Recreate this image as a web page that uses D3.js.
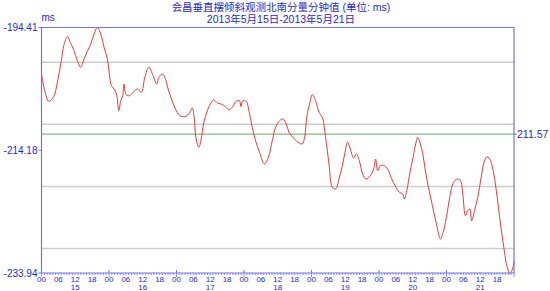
<!DOCTYPE html>
<html>
<head>
<meta charset="utf-8">
<script src="https://cdn.jsdelivr.net/npm/d3@7"></script>
<style>
  body { margin: 0; background: #fff; }
  text { font-family: "Liberation Sans", Arial, sans-serif; }
</style>
</head>
<body>
<div id="chart"></div>
<script>
// hours since 2013-05-15 00:00
const hours = [0, 1.14, 2.56, 3.74, 4.70, 5.87, 7.05, 8.01, 9.18, 10.39, 11.57, 12.74, 13.95, 15.13, 16.30, 17.51, 18.69, 19.86, 21.07, 22.25,
  23.42, 24.13, 24.84, 26.05, 26.77, 27.48, 28.19, 28.90, 29.36, 30.08, 31.25, 32.57, 34.10, 35.52, 36.73, 38.16, 39.69, 41.00, 41.72, 42.89,
  43.85, 45.03, 46.20, 47.62, 49.19, 50.97, 52.39, 53.57, 54.28, 54.74, 55.46, 55.95, 56.77, 57.59, 58.55, 59.73, 61.15, 62.72, 63.89, 65.42,
  66.63, 67.81, 69.23, 70.40, 70.90, 71.61, 72.79, 73.75, 74.93, 76.10, 77.52, 79.30, 80.87, 82.04, 83.22, 84.64, 85.85, 87.03, 87.99, 89.41,
  91.19, 92.72, 93.54, 94.39, 95.32, 96.28, 97.46, 98.66, 99.84, 101.01, 102.22, 103.40, 104.57, 105.78, 106.96, 107.92, 108.84, 109.80, 110.98, 111.94,
  113.01, 114.18, 115.39, 116.92, 118.10, 118.81, 119.52, 120.48, 121.91, 123.08, 124.29, 125.71, 127.25, 128.42, 129.03, 129.99, 130.91, 132.12, 133.05, 133.76,
  134.72, 135.68, 136.39, 137.57, 138.99, 140.42, 141.84, 142.80, 143.97, 145.15, 146.36, 147.78, 148.96, 149.78, 150.74, 151.55, 152.27, 152.98, 153.94, 155.12,
  156.33, 157.50, 158.46, 159.64, 160.81, 162.02, 163.20, 164.37, 165.58, 166.51, 167.47, 168];
const values = [-201.90, -204.59, -206.29, -205.92, -205.12, -202.70, -199.76, -197.18, -195.89, -196.95, -198.15, -199.76, -200.82, -199.48, -198.24, -197.07, -195.46, -194.41, -195.46, -197.60,
  -199.48, -201.90, -203.78, -204.47, -205.39, -207.81, -206.20, -205.39, -203.51, -205.23, -205.39, -204.84, -204.31, -204.84, -202.43, -200.82, -202.17, -203.51, -202.43, -201.90,
  -202.43, -204.31, -205.92, -207.53, -208.61, -208.77, -208.34, -207.37, -208.87, -211.56, -213.28, -213.70, -212.36, -209.95, -208.34, -207.00, -206.08, -206.61, -206.73, -207.16,
  -207.69, -207.26, -206.29, -206.20, -207.16, -206.20, -206.29, -207.81, -210.48, -212.64, -214.51, -216.39, -215.05, -212.64, -210.48, -209.42, -209.14, -209.95, -211.28, -212.09,
  -212.89, -213.17, -212.09, -208.61, -206.73, -205.23, -206.20, -208.06, -208.87, -212.09, -216.39, -220.14, -220.42, -218.80, -216.66, -214.51, -212.89, -213.97, -215.42, -214.78,
  -215.86, -218.00, -218.80, -218.27, -217.19, -215.58, -217.47, -216.66, -216.66, -217.19, -218.53, -219.88, -220.95, -221.22, -222.02, -220.42, -218.00, -215.31, -213.17, -212.09,
  -213.17, -215.05, -217.19, -220.14, -223.10, -226.05, -228.47, -227.39, -224.97, -221.75, -219.50, -218.80, -219.08, -221.22, -224.71, -223.91, -223.64, -225.52, -223.91, -221.75,
  -218.53, -215.86, -215.22, -215.86, -218.00, -221.75, -226.05, -229.80, -233.02, -233.94, -233.30, -231.96];

const yTicks = [-194.41, -214.18, -233.94];
const gridValues = [-200, -210, -220, -230];
const meanValue = -211.57;
const days = ["15", "16", "17", "18", "19", "20", "21"];
const hourLabels = ["00", "06", "12", "18"];
const titleLines = ["会昌垂直摆倾斜观测北南分量分钟值 (单位: ms)", "2013年5月15日-2013年5月21日"];

const W = 550, H = 291;
const m = { left: 41.5, right: 514, top: 27.5, bottom: 273 };
const axisColor = "#7373e6", textColor = "#1f1fd0";

const svg = d3.select("#chart").append("svg")
  .attr("width", W).attr("height", H);

const x = d3.scaleLinear().domain([0, 168]).range([m.left, m.right]);
const y = d3.scaleLinear().domain([-233.94, -194.41]).range([m.bottom, m.top]);

// title
svg.selectAll("text.title")
  .data(titleLines)
  .enter().append("text")
  .attr("class", "title")
  .attr("x", 281)
  .attr("y", (d, i) => 10.5 + i * 12)
  .attr("text-anchor", "middle")
  .attr("font-size", 10.5)
  .style("font-family", "'Liberation Sans', 'Noto Sans CJK SC', sans-serif")
  .attr("fill", textColor)
  .text(d => d);

svg.append("text")
  .attr("x", m.left)
  .attr("y", 21)
  .attr("font-size", 10)
  .attr("fill", textColor)
  .text("ms");

// grid lines
svg.selectAll("line.grid")
  .data(gridValues)
  .enter().append("line")
  .attr("x1", m.left).attr("x2", m.right)
  .attr("y1", d => y(d)).attr("y2", d => y(d))
  .attr("stroke", "#cdcdcd")
  .attr("stroke-width", 1.5);

svg.append("line")
  .attr("x1", m.left).attr("x2", m.right)
  .attr("y1", y(meanValue)).attr("y2", y(meanValue))
  .attr("stroke", "#86b886")
  .attr("stroke-width", 1.2);

// data line
const line = d3.line()
  .x((d, i) => x(hours[i]))
  .y(d => y(d))
  .curve(d3.curveCatmullRom.alpha(0.5));

svg.append("path")
  .datum(values)
  .attr("d", line)
  .attr("fill", "none")
  .attr("stroke", "#e23b3b")
  .attr("stroke-width", 1);

// frame
svg.append("path")
  .attr("d", `M${m.left},${m.bottom} L${m.left},${m.top} L${m.right},${m.top} L${m.right},${m.bottom} Z`)
  .attr("fill", "none")
  .attr("stroke", axisColor)
  .attr("stroke-width", 1.2);

// left axis ticks
svg.selectAll("text.ylab")
  .data(yTicks)
  .enter().append("text")
  .attr("x", m.left - 4)
  .attr("y", d => y(d) + 3.5)
  .attr("text-anchor", "end")
  .attr("font-size", 10)
  .attr("fill", textColor)
  .text(d => d.toFixed(2));

svg.selectAll("line.ytick")
  .data(yTicks)
  .enter().append("line")
  .attr("x1", m.left - 3).attr("x2", m.left)
  .attr("y1", d => y(d)).attr("y2", d => y(d))
  .attr("stroke", axisColor);

// right mean label
svg.append("line")
  .attr("x1", m.right).attr("x2", m.right + 3)
  .attr("y1", y(meanValue)).attr("y2", y(meanValue))
  .attr("stroke", axisColor);
svg.append("text")
  .attr("x", m.right + 3)
  .attr("y", y(meanValue) + 4)
  .attr("font-size", 10.5)
  .attr("fill", textColor)
  .text(Math.abs(meanValue).toFixed(2));

// bottom ticks: hourly minor, daily major
svg.selectAll("line.xminor")
  .data(d3.range(0, 169))
  .enter().append("line")
  .attr("x1", d => x(d)).attr("x2", d => x(d))
  .attr("y1", m.bottom).attr("y2", d => d % 24 === 0 ? m.bottom + 4 : m.bottom + 2)
  .attr("stroke", axisColor)
  .attr("stroke-width", 0.8);

svg.selectAll("line.xmajor")
  .data(d3.range(0, 168, 24))
  .enter().append("line")
  .attr("x1", d => x(d)).attr("x2", d => x(d))
  .attr("y1", m.bottom - 3).attr("y2", m.bottom)
  .attr("stroke", axisColor);

const hourTicks = d3.range(0, 168, 6);
svg.selectAll("text.xlab")
  .data(hourTicks)
  .enter().append("text")
  .attr("x", d => x(d))
  .attr("y", 282)
  .attr("text-anchor", "middle")
  .attr("font-size", 8)
  .attr("fill", textColor)
  .text(d => hourLabels[(d % 24) / 6]);

svg.selectAll("text.day")
  .data(days)
  .enter().append("text")
  .attr("x", (d, i) => x(i * 24 + 12))
  .attr("y", 290)
  .attr("text-anchor", "middle")
  .attr("font-size", 8)
  .attr("fill", textColor)
  .text(d => d);
</script>
</body>
</html>
